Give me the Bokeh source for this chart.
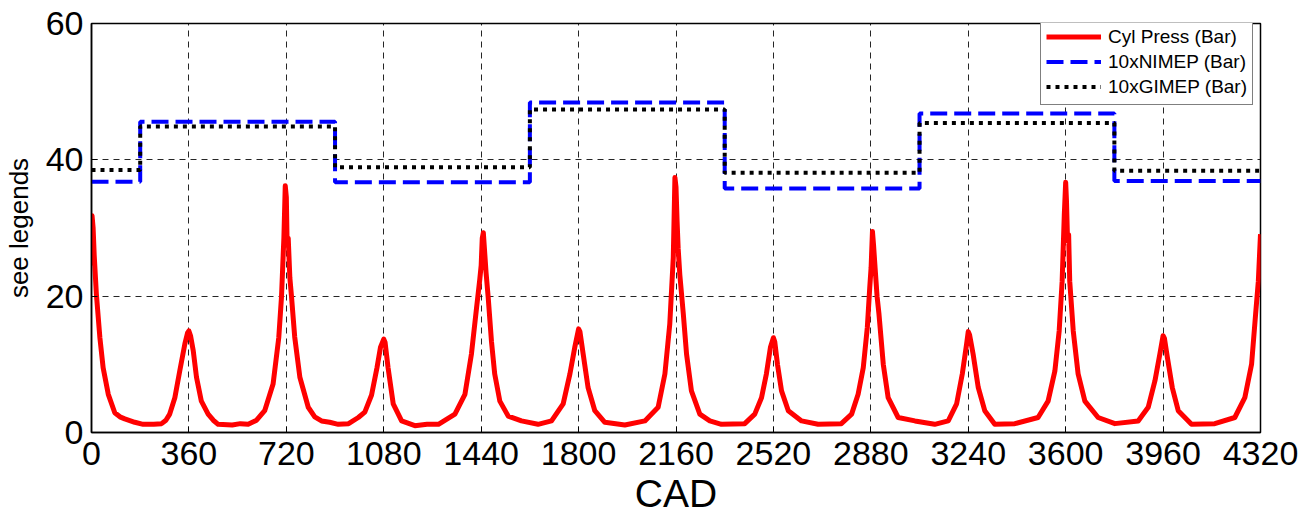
from bokeh.plotting import figure
from bokeh.models import Legend, LegendItem, FixedTicker
from bokeh.embed import file_html
from bokeh.resources import INLINE

# ---- data ----
cad = [0, 2, 6, 10, 18, 31, 43, 62, 86, 105, 123, 160, 191, 230, 259, 275, 289, 308, 326, 345,
       355, 360, 366, 376, 388, 406, 431, 450, 468, 520, 550, 579, 610, 640, 671, 692, 702, 711,
       716, 720, 723, 727, 733, 739, 751, 770, 801, 825, 850, 880, 912, 950, 986, 1010, 1035,
       1055, 1068, 1080, 1085, 1096, 1115, 1146, 1195, 1240, 1282, 1343, 1380, 1404, 1423, 1435,
       1440, 1444, 1448, 1452, 1458, 1466, 1478, 1490, 1509, 1540, 1589, 1650, 1700, 1743, 1768,
       1786, 1800, 1805, 1817, 1835, 1860, 1897, 1971, 2045, 2094, 2119, 2137, 2150, 2156, 2160,
       2164, 2168, 2174, 2187, 2199, 2217, 2248, 2285, 2328, 2414, 2451, 2476, 2494, 2509, 2520,
       2525, 2535, 2550, 2575, 2624, 2685, 2771, 2809, 2833, 2852, 2867, 2876, 2881, 2886, 2890,
       2896, 2903, 2910, 2926, 2944, 2981, 3043, 3116, 3166, 3197, 3218, 3234, 3240, 3245, 3258,
       3277, 3301, 3338, 3412, 3498, 3535, 3560, 3576, 3587, 3595, 3600, 3603, 3607, 3611, 3615,
       3628, 3646, 3671, 3720, 3782, 3868, 3905, 3930, 3948, 3960, 3965, 3976, 3994, 4016, 4065,
       4151, 4225, 4262, 4287, 4302, 4312, 4320]
cyl_press = [24.5, 31.8, 30.0, 26.0, 20.3, 13.9, 9.5, 5.6, 2.9, 2.3, 2.0, 1.5, 1.2, 1.2, 1.3, 1.8,
             2.7, 5.1, 9.0, 13.0, 14.6, 14.9, 14.2, 12.0, 8.1, 4.6, 2.7, 1.8, 1.2, 1.1, 1.3, 1.2,
             1.8, 3.2, 7.1, 13.9, 19.8, 28.6, 36.2, 34.5, 27.5, 28.5, 22.7, 20.0, 14.0, 8.1, 3.7,
             2.3, 1.7, 1.5, 1.2, 1.3, 2.2, 3.0, 5.5, 9.5, 12.5, 13.7, 13.2, 9.5, 4.2, 1.7, 1.0,
             1.2, 1.2, 2.7, 5.6, 11.5, 18.3, 22.5, 24.5, 28.5, 29.3, 27.0, 23.5, 19.8, 13.4, 8.6,
             4.6, 2.4, 1.7, 1.2, 1.7, 4.2, 8.6, 12.5, 15.2, 14.8, 11.5, 6.6, 3.2, 1.5, 1.1, 1.7,
             3.7, 8.6, 15.9, 25.7, 37.4, 36.0, 31.0, 27.0, 23.2, 17.4, 11.5, 6.1, 2.7, 1.7, 1.2,
             1.3, 2.7, 5.1, 8.6, 12.5, 13.9, 13.3, 10.0, 6.1, 3.2, 1.7, 1.2, 1.3, 2.7, 5.6, 9.5,
             15.4, 21.3, 24.2, 29.5, 27.5, 24.0, 20.0, 17.4, 10.0, 5.1, 2.2, 1.7, 1.2, 1.7, 4.2,
             8.6, 13.0, 14.8, 14.3, 11.5, 6.6, 3.2, 1.2, 1.3, 2.2, 4.6, 9.0, 14.9, 22.2, 32.0,
             36.7, 34.0, 28.1, 29.0, 22.2, 14.9, 8.6, 4.6, 2.2, 1.3, 1.7, 3.7, 7.6, 11.5, 14.2,
             13.8, 11.0, 6.6, 3.2, 1.2, 1.3, 2.2, 5.1, 10.0, 17.4, 22.2, 29.1]

imep_edges = [0, 180, 900, 1620, 2340, 3060, 3780, 4320]
nimep_x10 = [36.8, 45.6, 36.7, 48.4, 35.8, 46.8, 36.9]
gimep_x10 = [38.5, 44.9, 38.9, 47.4, 38.1, 45.4, 38.4]

x_ticks = [0, 360, 720, 1080, 1440, 1800, 2160, 2520, 2880, 3240, 3600, 3960, 4320]
y_ticks = [0, 20, 40, 60]

FONT = "Liberation Sans"

p = figure(width=1314, height=517, x_range=(0, 4320), y_range=(0, 60),
           output_backend="svg", toolbar_location=None,
           min_border_left=90, min_border_right=54, min_border_top=23, min_border_bottom=85)
p.background_fill_color = "white"
p.border_fill_color = "white"
p.outline_line_color = "black"
p.outline_line_width = 1.5
p.outline_line_alpha = 1.0

for ax in (p.xaxis[0], p.yaxis[0]):
    ax.axis_line_color = "black"
    ax.axis_line_width = 1.5
    ax.major_tick_in = 6
    ax.major_tick_out = 0
    ax.minor_tick_line_color = None
    ax.major_tick_line_color = "black"
    ax.major_label_text_font = FONT
    ax.major_label_text_font_size = "34px"
    ax.major_label_text_color = "black"
    ax.axis_label_text_font = FONT
    ax.axis_label_text_font_style = "normal"
    ax.axis_label_text_color = "black"

p.xaxis.ticker = FixedTicker(ticks=x_ticks)
p.yaxis.ticker = FixedTicker(ticks=y_ticks)
p.xaxis.major_label_standoff = 9
p.yaxis.major_label_standoff = 8
p.xaxis.axis_label = "CAD"
p.xaxis.axis_label_text_font_size = "39px"
p.xaxis.axis_label_standoff = 4
p.yaxis.axis_label = "see legends"
p.yaxis.axis_label_text_font_size = "26px"
p.yaxis.axis_label_standoff = 9

for g in (p.xgrid[0], p.ygrid[0]):
    g.grid_line_color = "black"
    g.grid_line_width = 1
    g.grid_line_dash = "6 5"
    g.grid_line_alpha = 0.85

r_cyl = p.line(cad, cyl_press, line_color="#ff0000", line_width=5, line_join="round")
nim_y = nimep_x10 + [nimep_x10[-1]]
gim_y = gimep_x10 + [gimep_x10[-1]]
r_nim = p.step(imep_edges, nim_y, mode="after", line_color="#0000ff", line_width=4,
               line_dash="17 7")
r_gim = p.step(imep_edges, gim_y, mode="after", line_color="black", line_width=4,
               line_dash="4 5")

legend = Legend(items=[LegendItem(label="Cyl Press (Bar)", renderers=[r_cyl]),
                       LegendItem(label="10xNIMEP (Bar)", renderers=[r_nim]),
                       LegendItem(label="10xGIMEP (Bar)", renderers=[r_gim])],
                location=(949, 327))
legend.label_text_font = FONT
legend.label_text_font_size = "19px"
legend.label_text_color = "black"
legend.glyph_width = 55
legend.glyph_height = 25
legend.label_height = 25
legend.label_standoff = 7
legend.spacing = 0
legend.padding = 5
legend.margin = 0
legend.border_line_color = "black"
legend.border_line_width = 1
legend.background_fill_color = "white"
legend.background_fill_alpha = 1.0
p.add_layout(legend)

open("out.html", "w").write(file_html(p, INLINE))
